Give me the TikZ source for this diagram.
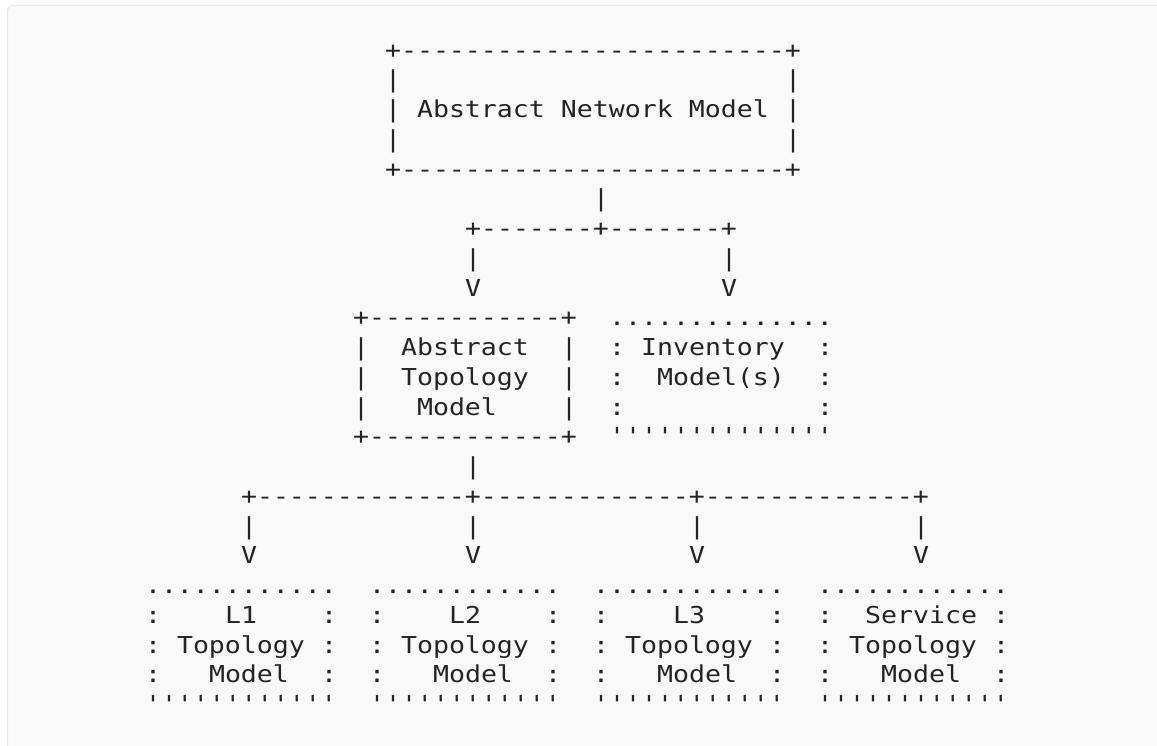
\documentclass[tikz,border=0pt]{standalone}
\usepackage{fontspec}
\setmonofont{DejaVu Sans Mono}[FakeStretch=1.1406]
\definecolor{bgfill}{RGB}{249,249,249}
\definecolor{bgline}{RGB}{234,234,234}
\definecolor{ink}{RGB}{36,36,36}
\tikzset{
  glyphs/.style={anchor=base west, inner sep=0pt, outer sep=0pt, text=ink,
    font=\ttfamily\fontsize{23.3}{28}\selectfont},
}
% place text #4 as node #1 at column #2, row #3 of the character grid
\newcommand\gridtext[4]{\node[glyphs] (#1) at ({145+16*(#2)},{-(58.2+29.75*(#3))}) {#4};}
\begin{document}
\begin{tikzpicture}[x=1pt,y=1pt]
\useasboundingbox (0,0) rectangle (1157,-746);
\clip (0,0) rectangle (1157,-746);
\fill[white] (0,0) rectangle (1157,-746);
\draw[bgline, fill=bgfill, line width=1pt, rounded corners=5pt] (7.5,-5.5) rectangle (1180,-780);
% Abstract Network Model box
\gridtext{anmTop}{15}{0}{+------------------------+}
\gridtext{anmL1}{15}{1}{|}
\gridtext{anmR1}{40}{1}{|}
\gridtext{anmL2}{15}{2}{|}
\gridtext{anm}{17}{2}{Abstract Network Model}
\gridtext{anmR2}{40}{2}{|}
\gridtext{anmL3}{15}{3}{|}
\gridtext{anmR3}{40}{3}{|}
\gridtext{anmBot}{15}{4}{+------------------------+}
% first fan-out
\gridtext{stemA}{28}{5}{|}
\gridtext{forkA}{20}{6}{+-------+-------+}
\gridtext{forkAl}{20}{7}{|}
\gridtext{forkAr}{36}{7}{|}
\gridtext{arrAl}{20}{8}{V}
\gridtext{arrAr}{36}{8}{V}
% Abstract Topology Model box
\gridtext{atmTop}{13}{9}{+------------+}
\gridtext{atmL1}{13}{10}{|}
\gridtext{atm1}{16}{10}{Abstract}
\gridtext{atmR1}{26}{10}{|}
\gridtext{atmL2}{13}{11}{|}
\gridtext{atm2}{16}{11}{Topology}
\gridtext{atmR2}{26}{11}{|}
\gridtext{atmL3}{13}{12}{|}
\gridtext{atm3}{17}{12}{Model}
\gridtext{atmR3}{26}{12}{|}
\gridtext{atmBot}{13}{13}{+------------+}
% Inventory Model(s) box
\gridtext{invTop}{29}{9}{..............}
\gridtext{invL1}{29}{10}{:}
\gridtext{inv1}{31}{10}{Inventory}
\gridtext{invR1}{42}{10}{:}
\gridtext{invL2}{29}{11}{:}
\gridtext{inv2}{32}{11}{Model(s)}
\gridtext{invR2}{42}{11}{:}
\gridtext{invL3}{29}{12}{:}
\gridtext{invR3}{42}{12}{:}
\gridtext{invBot}{29}{13}{''''''''''''''}
% second fan-out
\gridtext{stemB}{20}{14}{|}
\gridtext{forkB}{6}{15}{+-------------+-------------+-------------+}
\foreach \c [count=\i] in {6,20,34,48} {
  \gridtext{forkB\i}{\c}{16}{|}
  \gridtext{arrB\i}{\c}{17}{V}
}
% bottom boxes
\foreach \b/\t/\o [count=\i] in {0/L1/5, 14/L2/5, 28/L3/5, 42/Service/3} {
  \gridtext{boxTop\i}{\b}{18}{............}
  \gridtext{boxL1\i}{\b}{19}{:}
  \gridtext{boxTitle\i}{\b+\o}{19}{\t}
  \gridtext{boxR1\i}{\b+11}{19}{:}
  \gridtext{boxL2\i}{\b}{20}{:}
  \gridtext{boxTopo\i}{\b+2}{20}{Topology}
  \gridtext{boxR2\i}{\b+11}{20}{:}
  \gridtext{boxL3\i}{\b}{21}{:}
  \gridtext{boxModel\i}{\b+4}{21}{Model}
  \gridtext{boxR3\i}{\b+11}{21}{:}
  \gridtext{boxBot\i}{\b}{22}{''''''''''''}
}
\end{tikzpicture}
\end{document}
